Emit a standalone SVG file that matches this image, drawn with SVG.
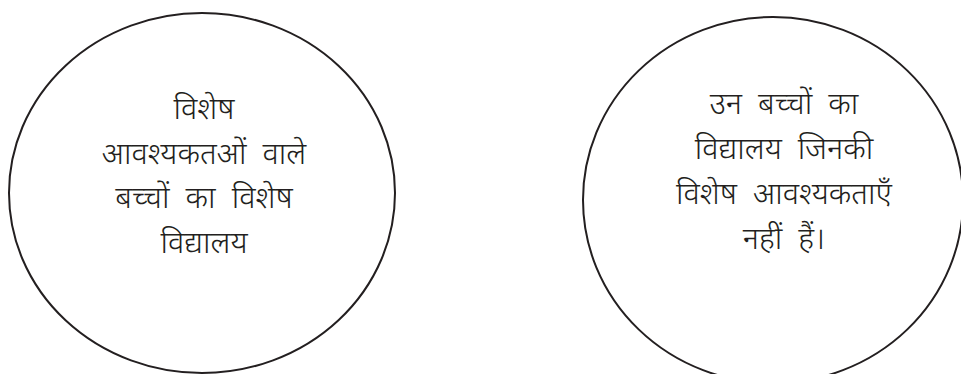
<svg xmlns="http://www.w3.org/2000/svg" width="961" height="374" viewBox="0 0 961 374">
<style>
.node{fill:#fff;stroke:#231f20;stroke-width:2}
.t{font-family:"Noto Sans","Liberation Sans",sans-serif;font-size:31px;font-weight:300;word-spacing:8px;fill:#231f20;text-anchor:middle}
</style>
<rect width="961" height="374" fill="#fff"/>
<g id="connectors"></g>
<g id="node-left">
<ellipse class="node" cx="202" cy="193" rx="193" ry="180"/>
<text class="t" x="204" y="119">विशेष</text>
<text class="t" x="204" y="164">आवश्यकतओं वाले</text>
<text class="t" x="204" y="208">बच्चों का विशेष</text>
<text class="t" x="204" y="253">विद्यालय</text>
</g>
<g id="node-right">
<ellipse class="node" cx="773" cy="200" rx="190" ry="183"/>
<text class="t" x="784" y="114">उन बच्चों का</text>
<text class="t" x="784" y="159">विद्यालय जिनकी</text>
<text class="t" x="784" y="204">विशेष आवश्यकताएँ</text>
<text class="t" x="784" y="249">नहीं हैं।</text>
</g>
</svg>
